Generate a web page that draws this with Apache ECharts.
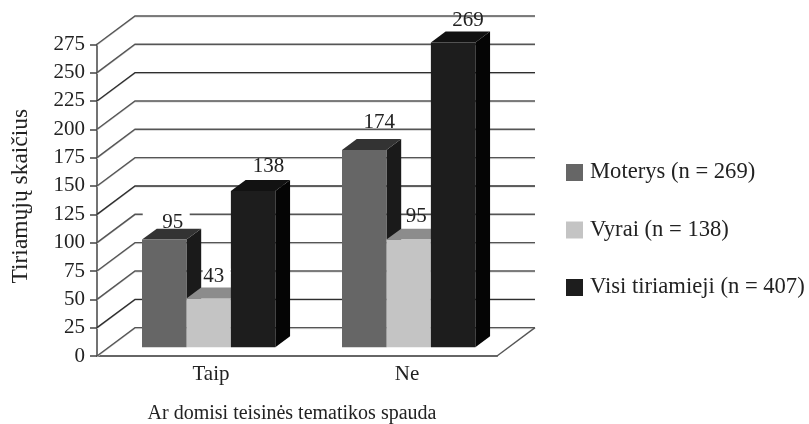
<!DOCTYPE html>
<html><head><meta charset="utf-8">
<style>html,body{margin:0;padding:0;background:#fff}#c{width:809px;height:424px}</style>
<script src="https://cdn.jsdelivr.net/npm/echarts@6/dist/echarts.min.js"></script>
</head><body><div id="c"></div>
<script>
const categories = ['Taip', 'Ne'];
const moterys = [95, 174];
const vyrai = [43, 95];
const visi = [138, 269];
const seriesNames = ['Moterys (n = 269)', 'Vyrai (n = 138)', 'Visi tiriamieji (n = 407)'];
const tickValues = [0, 25, 50, 75, 100, 125, 150, 175, 200, 225, 250, 275];
const yTitle = 'Tiriamųjų skaičius';
const xTitle = 'Ar domisi teisinės tematikos spauda';

const FONT = '"Liberation Serif", "Times New Roman", serif';
const TEXT = '#222';
const faces = [
  {front: '#666666', top: '#333333', side: '#1a1a1a'},
  {front: '#c4c4c4', top: '#8c8c8c', side: '#555555'},
  {front: '#1d1d1d', top: '#121212', side: '#050505'}
];
const WALL_DX = 38;
const BAR_START = 0.307, BAR_DEPTH = 0.388, BAR_BAND = 0.2222;
// label placement relative to each bar's front face [series][category]: dx, dy
const labelShift = [
  [[8.5, -17.6], [15, -27.6]],
  [[5, -22], [7.7, -23]],
  [[15.5, -24], [15, -22.4]]
];
// white patches behind labels: [series, category, left, right, top, bottom] relative to label centre
const labelMasks = [[0, 0, -30, 17, -11, -5], [1, 0, -11, 17, -8, -3]];
const allValues = [moterys, vyrai, visi];

function unitDy(api) { return api.coord([0, 0])[1] - api.coord([0, 25])[1]; }

function wallItem(params, api) {
  const v = api.value(0);
  const cs = params.coordSys;
  const y = api.coord([0, v])[1];
  const dy = unitDy(api);
  const x0 = cs.x, x1 = cs.x + WALL_DX, x2 = cs.x + cs.width + WALL_DX;
  const stroke = v % 100 === 25 ? '#2e2e2e' : '#555555';
  const children = [];
  children.push({type: 'polyline', silent: true,
    shape: {points: [[x0, y + 1], [x1, y - dy + 1], [x2, y - dy + 1]]},
    style: {stroke: '#d2d2d2', lineWidth: 1, fill: null}});
  children.push({type: 'polyline', silent: true,
    shape: {points: [[x0, y], [x1, y - dy], [x2, y - dy]]},
    style: {stroke: stroke, lineWidth: 1.4, fill: null}});
  if (v === 0) {
    children.push({type: 'polyline', silent: true,
      shape: {points: [[x2, y - dy], [cs.x + cs.width, y]]},
      style: {stroke: '#555555', lineWidth: 1.4, fill: null}});
  }
  return {type: 'group', children: children};
}

function barGeom(api, s, c, v) {
  const dy = unitDy(api);
  const base = api.coord([c, 0]);
  const top = api.coord([c, v]);
  const w = api.size([1, 0])[0] * BAR_BAND;
  const x = base[0] + WALL_DX * BAR_START + (s - 1.5) * w;
  return {x: x, w: w, y0: base[1] - dy * BAR_START, y1: top[1] - dy * BAR_START,
    ddx: WALL_DX * BAR_DEPTH, ddy: dy * BAR_DEPTH};
}

function barRenderer(s) {
  return function (params, api) {
    const g = barGeom(api, s, api.value(0), api.value(1));
    const f = faces[s];
    return {type: 'group', children: [
      {type: 'polygon', silent: true, shape: {points: [[g.x + g.w, g.y0], [g.x + g.w + g.ddx, g.y0 - g.ddy], [g.x + g.w + g.ddx, g.y1 - g.ddy], [g.x + g.w, g.y1]]}, style: {fill: f.side}},
      {type: 'polygon', silent: true, shape: {points: [[g.x, g.y1], [g.x + g.ddx, g.y1 - g.ddy], [g.x + g.w + g.ddx, g.y1 - g.ddy], [g.x + g.w, g.y1]]}, style: {fill: f.top}},
      {type: 'rect', silent: true, shape: {x: g.x, y: g.y1, width: g.w, height: g.y0 - g.y1}, style: {fill: f.front}}
    ]};
  };
}

function labelItem(params, api) {
  const s = api.value(0), c = api.value(1), v = api.value(2);
  const g = barGeom(api, s, c, v);
  const sh = labelShift[s][c];
  const cx = g.x + g.w / 2 + sh[0], cy = g.y1 + sh[1];
  const children = [];
  labelMasks.forEach(function (m) {
    if (m[0] === s && m[1] === c) {
      children.push({type: 'rect', silent: true, shape: {x: cx + m[2], y: cy + m[4], width: m[3] - m[2], height: m[5] - m[4]}, style: {fill: '#fff'}});
    }
  });
  children.push({type: 'text', silent: true, x: cx, y: cy,
    style: {text: String(v), fill: TEXT, font: '21px ' + FONT, textAlign: 'center', textVerticalAlign: 'middle'}});
  return {type: 'group', children: children};
}

const labelData = [];
allValues.forEach(function (vals, s) { vals.forEach(function (v, c) { labelData.push([s, c, v]); }); });

const catRich = {
  c0: {fontFamily: FONT, fontSize: 21, color: TEXT, padding: [0, 0, 0, 28]},
  c1: {fontFamily: FONT, fontSize: 21, color: TEXT, padding: [0, 0, 0, 20]}
};

const chart = echarts.init(document.getElementById('c'), null, {renderer: 'canvas'});
chart.setOption({
  animation: false,
  backgroundColor: '#fff',
  grid: {left: 97, top: 44.3, width: 400, height: 311.7, containLabel: false, outerBoundsMode: 'none'},
  legend: {
    orient: 'vertical', left: 561, top: 156, icon: 'rect', itemWidth: 17, itemHeight: 17, itemGap: 34.5,
    selectedMode: false, data: seriesNames,
    textStyle: {fontFamily: FONT, fontSize: 22.6, color: TEXT, padding: [0, 0, 0, 2]}
  },
  xAxis: {
    type: 'category', data: categories,
    name: xTitle, nameLocation: 'middle', nameGap: 48,
    nameTextStyle: {fontFamily: FONT, fontSize: 20, color: TEXT, padding: [0, 10, 0, 0]},
    axisLine: {lineStyle: {color: '#666', width: 2}}, axisTick: {show: false},
    splitLine: {show: false},
    axisLabel: {margin: 8, rich: catRich, formatter: function (value, index) { return '{c' + index + '|' + value + '}'; }}
  },
  yAxis: {
    type: 'value', min: 0, max: 275, interval: 25,
    name: yTitle, nameLocation: 'middle', nameGap: 64,
    nameTextStyle: {fontFamily: FONT, fontSize: 23.5, color: TEXT, padding: [0, 0, 0, 8]},
    axisLine: {show: true, lineStyle: {color: '#444', width: 1.5}},
    axisTick: {show: true, length: 7, lineStyle: {color: '#444', width: 1.5}},
    splitLine: {show: false},
    axisLabel: {fontFamily: FONT, fontSize: 21, color: TEXT, margin: 12, customValues: tickValues}
  },
  series: [
    {type: 'custom', name: 'walls', z: 1, silent: true, renderItem: wallItem, data: tickValues.map(function (v) { return [v]; }), encode: {y: 0}},
    {type: 'custom', name: seriesNames[0], z: 2, silent: true, itemStyle: {color: faces[0].front}, renderItem: barRenderer(0), data: moterys.map(function (v, i) { return [i, v]; })},
    {type: 'custom', name: seriesNames[1], z: 3, silent: true, itemStyle: {color: faces[1].front}, renderItem: barRenderer(1), data: vyrai.map(function (v, i) { return [i, v]; })},
    {type: 'custom', name: seriesNames[2], z: 4, silent: true, itemStyle: {color: faces[2].front}, renderItem: barRenderer(2), data: visi.map(function (v, i) { return [i, v]; })},
    {type: 'custom', name: 'labels', z: 5, silent: true, renderItem: labelItem, data: labelData, encode: {x: 1, y: 2}}
  ]
});
</script></body></html>
